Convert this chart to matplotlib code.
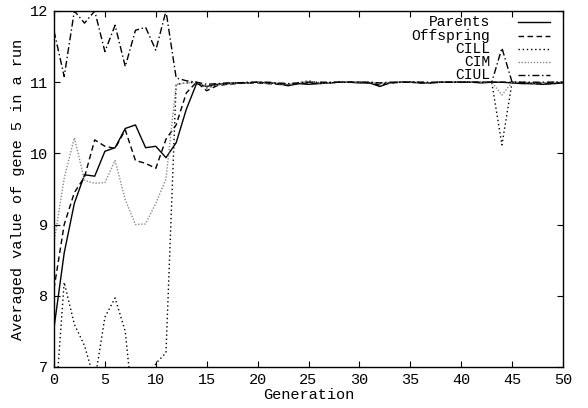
import matplotlib
matplotlib.use("Agg")
import matplotlib.pyplot as plt
import numpy as np

generations = list(range(51))

parents = [7.55, 8.6, 9.3, 9.7, 9.68, 10.03, 10.08, 10.35, 10.4, 10.08,
           10.1, 9.94, 10.15, 10.62, 10.98, 10.94, 10.97, 10.98, 10.99, 10.99,
           11.0, 10.99, 10.98, 10.95, 10.98, 10.97, 10.98, 10.99, 11.0, 11.0,
           10.99, 10.99, 10.94, 10.99, 11.0, 11.0, 10.99, 10.99, 11.0, 11.0,
           11.0, 11.0, 10.99, 11.0, 11.0, 10.99, 10.98, 10.98, 10.97, 10.98, 10.99]

offspring = [8.1, 9.0, 9.45, 9.67, 10.19, 10.1, 10.07, 10.33, 9.9, 9.86,
             9.79, 10.2, 10.4, 10.85, 11.0, 10.88, 10.95, 10.97, 10.98, 10.99,
             10.99, 10.98, 10.97, 10.96, 10.98, 10.99, 10.98, 10.99, 11.0, 11.0,
             11.0, 10.99, 10.96, 10.99, 11.0, 11.0, 10.99, 10.99, 11.0, 11.0,
             11.0, 11.0, 11.0, 11.0, 11.0, 11.0, 10.99, 10.98, 10.98, 10.98, 10.99]

cill = [6.2, 8.19, 7.6, 7.3, 6.8, 7.7, 7.97, 7.5, 6.1, 6.55,
        7.05, 7.2, 10.97, 10.99, 11.0, 10.92, 10.96, 10.98, 10.99, 10.99,
        11.0, 10.99, 10.98, 10.97, 10.99, 11.02, 10.99, 10.99, 11.0, 11.0,
        11.0, 11.0, 10.98, 10.99, 11.0, 11.0, 11.0, 10.99, 11.0, 11.0,
        11.0, 11.0, 11.0, 11.0, 10.12, 11.0, 11.0, 10.99, 10.99, 11.0, 11.0]

cim = [8.75, 9.65, 10.22, 9.62, 9.58, 9.59, 9.9, 9.35, 9.0, 9.01,
       9.3, 9.64, 10.97, 10.99, 11.0, 10.93, 10.96, 10.98, 10.99, 10.99,
       11.0, 10.99, 10.98, 10.97, 10.99, 11.01, 10.99, 10.99, 11.0, 11.0,
       11.0, 11.0, 10.98, 10.99, 11.0, 11.0, 11.0, 10.99, 11.0, 11.0,
       11.0, 11.0, 11.0, 11.0, 10.82, 11.0, 11.0, 10.99, 10.99, 11.0, 11.0]

ciul = [11.72, 11.08, 12.0, 11.83, 12.0, 11.43, 11.8, 11.22, 11.73, 11.77,
        11.45, 12.0, 11.06, 11.02, 11.0, 10.97, 10.98, 10.99, 10.99, 11.0,
        11.0, 11.0, 10.99, 10.98, 10.99, 11.0, 11.0, 11.0, 11.0, 11.0,
        11.0, 11.0, 10.99, 11.0, 11.0, 11.0, 11.0, 11.0, 11.0, 11.0,
        11.0, 11.0, 11.0, 11.0, 11.48, 11.0, 11.0, 11.0, 11.0, 11.0, 11.0]

labels = ["Parents", "Offspring", "CILL", "CIM", "CIUL"]
series = [parents, offspring, cill, cim, ciul]
styles = [
    dict(color="black", linestyle="-"),
    dict(color="black", linestyle=(0, (4, 2.5))),
    dict(color="black", linestyle=(0, (1, 2))),
    dict(color="#8a8a8a", linestyle=(0, (1, 1.2))),
    dict(color="black", linestyle=(0, (5, 2, 1, 2))),
]

plt.rcParams["font.family"] = ["Liberation Mono", "DejaVu Sans Mono"]

fig = plt.figure(figsize=(5.88, 4.08), dpi=100)
ax = fig.add_axes([54 / 588, 1 - 367 / 408, 509 / 588, 356 / 408])

for vals, st in zip(series, styles):
    ax.plot(generations, vals, linewidth=1.0, **st)

ax.set_xlim(0, 50)
ax.set_ylim(7, 12)
ax.set_xticks(range(0, 51, 5))
ax.set_yticks(range(7, 13))
ax.tick_params(direction="in", length=4, width=0.8, top=True, right=True,
               labelsize=11, pad=4)
for sp in ax.spines.values():
    sp.set_linewidth(1.0)

ax.set_xlabel("Generation", fontsize=11, labelpad=1)
ax.set_ylabel("Averaged value of gene 5 in a run", fontsize=11, labelpad=4)

# key in the upper right: right-aligned names followed by line samples
y0 = 0.968
dy = 0.037
for i, (lab, st) in enumerate(zip(labels, styles)):
    y = y0 - i * dy
    ax.text(0.857, y, lab, transform=ax.transAxes, ha="right", va="center",
            fontsize=10.5)
    ax.plot([0.912, 0.974], [y, y], transform=ax.transAxes, linewidth=1.0,
            clip_on=False, **st)

fig.savefig("out.png", dpi=100)
